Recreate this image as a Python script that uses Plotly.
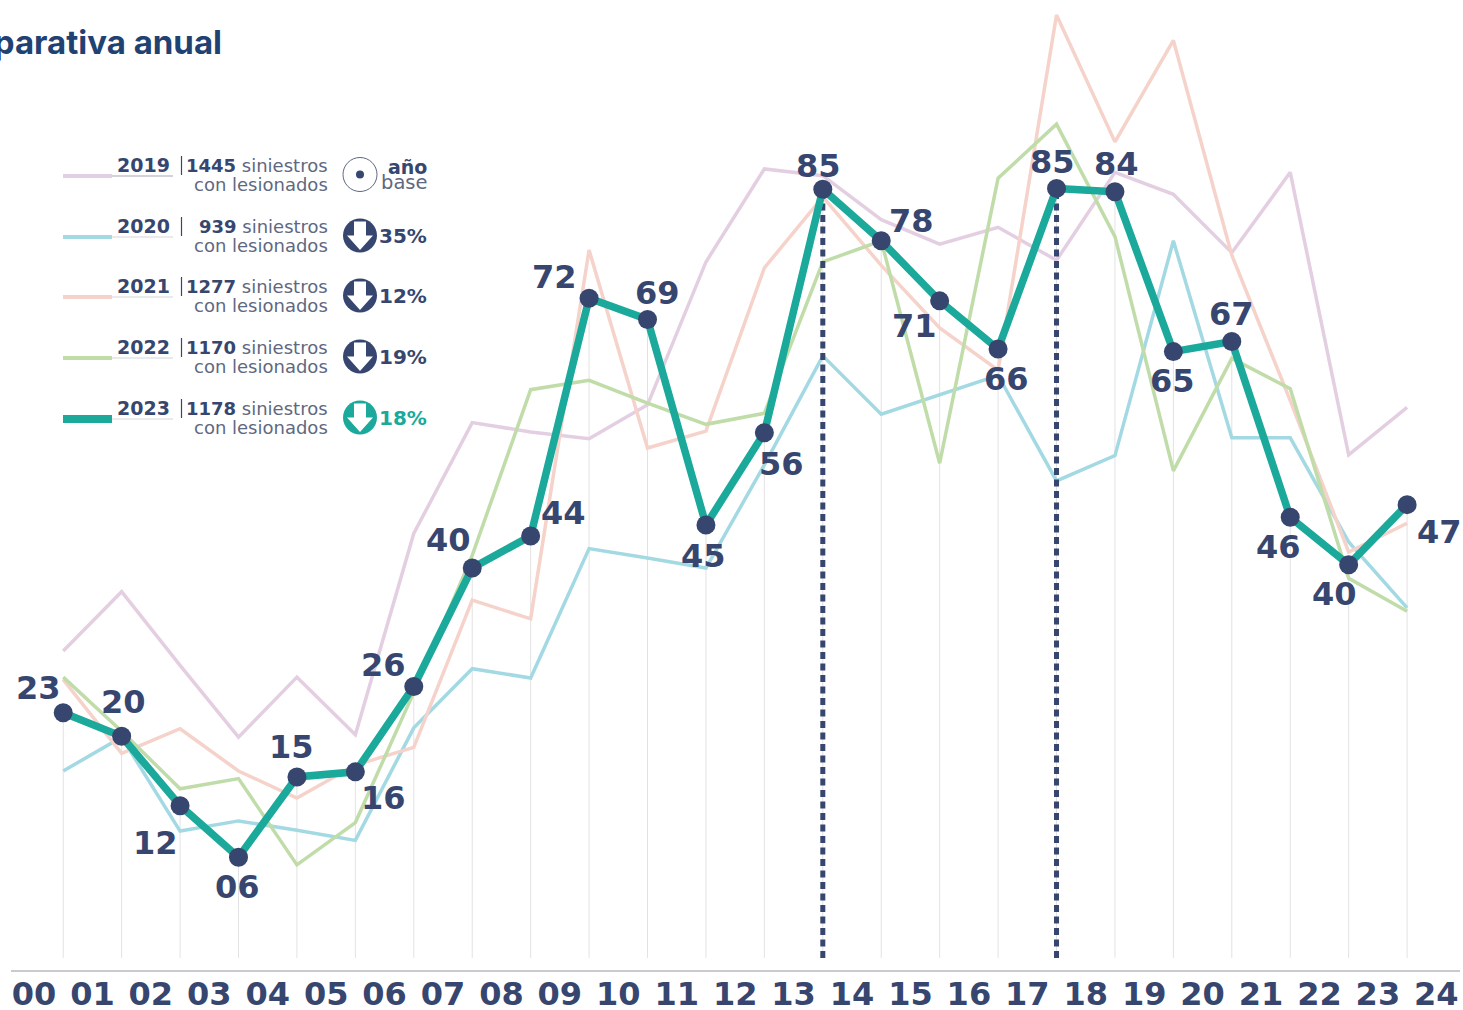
import plotly.graph_objects as go

hour_labels = [f"{h:02d}" for h in range(25)]
x_mid = [h + 0.5 for h in range(24)]

y2019 = [30.4, 37.4, 28.7, 20.2, 27.3, 20.5, 44.3, 57.4, 56.3, 55.5, 59.5, 76.4, 87.4, 86.6, 81.4, 78.5, 80.5, 76.6, 87.0, 84.4, 77.5, 87.0, 53.6, 59.2]
y2020 = [16.2, 20.2, 9.1, 10.3, 9.2, 8.0, 21.3, 28.3, 27.2, 42.5, 41.4, 40.2, 52.4, 65.3, 58.4, 60.7, 63.0, 50.5, 53.5, 78.9, 55.6, 55.6, 43.3, 35.5]
y2021 = [27.0, 18.3, 21.2, 16.2, 13.0, 16.9, 19.0, 36.4, 34.2, 77.8, 54.4, 56.4, 75.7, 84.1, 76.0, 68.6, 63.6, 105.6, 90.6, 102.6, 77.2, 60.0, 42.1, 45.5]
y2022 = [27.3, 20.9, 14.1, 15.3, 5.1, 10.1, 25.5, 41.7, 61.3, 62.4, 59.7, 57.2, 58.5, 76.4, 78.9, 52.6, 86.3, 92.7, 79.4, 51.7, 65.0, 61.4, 39.0, 35.1]
y2023 = [23.1, 20.3, 12.1, 6.0, 15.5, 16.1, 26.2, 40.2, 44.0, 72.1, 69.6, 45.3, 56.2, 85.0, 78.9, 71.8, 66.1, 85.1, 84.7, 65.8, 67.0, 46.2, 40.6, 47.7]
labels2023 = ["23", "20", "12", "06", "15", "16", "26", "40", "44", "72", "69", "45", "56", "85", "78", "71", "66", "85", "84", "65", "67", "46", "40", "47"]
label_dx = [-25, 2, -25, -1, -5, 28, -30, -24, 33, -35, 10, -2, 17, -4, 30, -25, 8, -4, 2, -1, 0, -12, -14, 32]
label_dy = [-25, -34, 37, 30, -30, 26, -21, -28, -23, -21, -26, 31, 31, -23, -20, 25, 30, -26, -28, 29, -27, 30, 29, 27]
floor_value = -5.9
peak_hours = [13.5, 17.5]
peak_values = [85.0, 85.1]

years = ["2019", "2020", "2021", "2022", "2023"]
totals = ["1445", "939", "1277", "1170", "1178"]
changes = ["", "35%", "12%", "19%", "18%"]

NAVY = "#37466f"
TEAL = "#1aa99a"
GREY = "#5f6880"
colors = ["#e3cfe1", "#a3d9e3", "#f5d2ca", "#c0dca8", TEAL]
FONT = "DejaVu Sans"

L, R, T, B = 11, 1460, 0, 970
def px(x):
    return (x - L) / (R - L)
def py(y):
    return (B - y) / (B - T)

fig = go.Figure()

# drop lines
fig.add_trace(go.Scatter(
    x=x_mid, y=y2023, mode="markers", marker=dict(size=1, opacity=0), hoverinfo="skip",
    error_y=dict(type="data", symmetric=False, array=[0] * 24,
                 arrayminus=[v - floor_value for v in y2023],
                 color="#e2e2e4", thickness=1, width=0),
))
for s, c in zip([y2019, y2020, y2021, y2022], colors):
    fig.add_trace(go.Scatter(x=x_mid, y=s, mode="lines", line=dict(color=c, width=3.5)))
for h, v in zip(peak_hours, peak_values):
    fig.add_trace(go.Scatter(x=[h, h], y=[floor_value, v], mode="lines",
                             line=dict(color=NAVY, width=5, dash="7px,4.5px")))
fig.add_trace(go.Scatter(x=x_mid, y=y2023, mode="lines+markers",
                         line=dict(color=TEAL, width=7.5),
                         marker=dict(color=NAVY, size=19)))

ann = []
for xv, yv, t, dx, dy in zip(x_mid, y2023, labels2023, label_dx, label_dy):
    ann.append(dict(x=xv, y=yv, xref="x", yref="y", text=t, showarrow=False, xanchor="center", yanchor="middle",
                    xshift=dx, yshift=-dy, font=dict(family=FONT, size=32, color=NAVY, weight="bold")))

def label(x, y, text, size, color=GREY, anchor="right", family=FONT):
    ann.append(dict(x=px(x), y=py(y), xref="paper", yref="paper", text=text, showarrow=False,
                    xanchor=anchor, yanchor="middle", font=dict(family=family, size=size, color=color)))

label(224, 42, "<b>Comparativa anual</b>", 33, "#1f4272", family="Inter")

shapes = []
row_offset = [0, 61, 121, 182, 243]
for i, (yr, tot, ch, off) in enumerate(zip(years, totals, changes, row_offset)):
    c = colors[i]
    ly = 176 + off
    shapes.append(dict(type="line", xref="paper", yref="paper", x0=px(112), x1=px(173), y0=py(ly), y1=py(ly),
                       line=dict(color="#d4d5da" if i else "#a9a3b5", width=1)))
    shapes.append(dict(type="line", xref="paper", yref="paper", x0=px(63), x1=px(112), y0=py(ly), y1=py(ly),
                       line=dict(color=c, width=8 if i == 4 else 4)))
    shapes.append(dict(type="line", xref="paper", yref="paper", x0=px(181.5), x1=px(181.5),
                       y0=py(156 + off), y1=py(175 + off), line=dict(color=NAVY, width=1.2)))
    label(172, 165 + off, f"<b>{yr}</b>", 19, NAVY)
    label(330, 166 + off, f"<b style='color:{NAVY}'>{tot}</b> siniestros", 18)
    label(330, 184.5 + off, "con lesionados", 18)
    cy = 174.5 + off
    if i == 0:
        shapes.append(dict(type="circle", xref="paper", yref="paper", x0=px(343), x1=px(377), y0=py(cy - 17), y1=py(cy + 17),
                           line=dict(color=GREY, width=1)))
        shapes.append(dict(type="circle", xref="paper", yref="paper", x0=px(356), x1=px(364), y0=py(cy - 4), y1=py(cy + 4),
                           line=dict(width=0), fillcolor=NAVY))
        label(429, 167, "<b>año</b>", 19, NAVY)
        label(429, 182, "base", 19.5)
    else:
        col = TEAL if i == 4 else NAVY
        shapes.append(dict(type="circle", xref="paper", yref="paper", x0=px(343), x1=px(377), y0=py(cy - 17), y1=py(cy + 17),
                           line=dict(width=0), fillcolor=col))
        pts = [(354, cy - 14), (366, cy - 14), (366, cy), (373, cy), (360, cy + 14.5), (347, cy), (354, cy)]
        path = "M " + " L ".join(f"{px(a):.5f} {py(b):.5f}" for a, b in pts) + " Z"
        shapes.append(dict(type="path", xref="paper", yref="paper", path=path, line=dict(width=0), fillcolor="white"))
        label(429, cy, f"<b>{ch}</b>", 20, col)

fig.update_layout(
    width=1463, height=1010, margin=dict(l=L, r=1463 - R, t=T, b=1010 - B, pad=0, autoexpand=False),
    plot_bgcolor="white", paper_bgcolor="white", showlegend=False,
    annotations=ann, shapes=shapes,
    xaxis=dict(range=[(L - 34) / 58.43, (R - 34) / 58.43], tickmode="array", tickvals=list(range(25)),
               ticktext=hour_labels, showgrid=False, zeroline=False, showline=True, linecolor="#c9cad0", linewidth=1.5,
               ticks="", automargin=False, ticklabelstandoff=-5,
               tickfont=dict(family=FONT, size=32, color=NAVY, weight="bold")),
    yaxis=dict(range=[(908 - B) / 8.456, (908 - T) / 8.456], visible=False, showgrid=False, zeroline=False, automargin=False),
)
fig.write_html("out.html", post_script="document.body.style.margin='0';", config={"displayModeBar": False})
